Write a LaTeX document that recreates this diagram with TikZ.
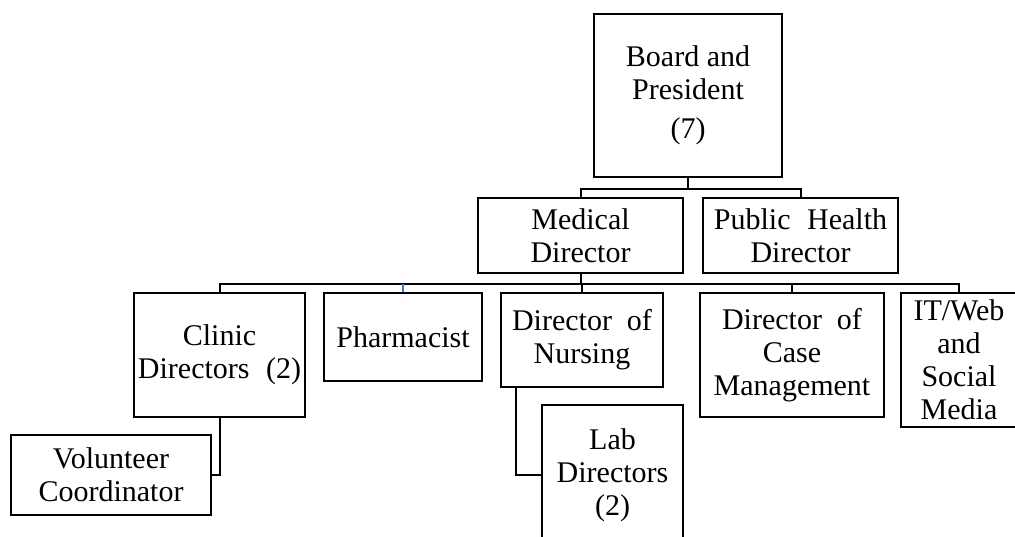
\documentclass[tikz,border=0pt]{standalone}
\usepackage{fontspec}
\setmainfont{Liberation Serif}
\begin{document}
\begin{tikzpicture}[x=1pt,y=-1pt,
  orgbox/.style={draw, line width=2pt, inner sep=0pt, align=center,
    font=\fontsize{30}{33}\selectfont},
  link/.style={line width=2pt},
  bluelink/.style={line width=2pt, draw={rgb,255:red,68;green,114;blue,196}}]
\useasboundingbox (0,0) rectangle (1015,537);
\clip (0,0) rectangle (1015,537);

% top level
\node[orgbox, minimum width=188pt, minimum height=163pt] (board) at (688,95.5)
  {Board and\\President\\[6pt](7)};

% second level
\node[orgbox, minimum width=205pt, minimum height=75pt] (medical) at (580.5,235.5)
  {Medical\\Director};
\node[orgbox, minimum width=195pt, minimum height=75pt] (public) at (800.5,235.5)
  {Public\hspace{0.55em}Health\\Director};

% third level
\node[orgbox, minimum width=171pt, minimum height=124pt] (clinic) at (219.5,355)
  {Clinic\\Directors\hspace{0.55em}(2)};
\node[orgbox, minimum width=158pt, minimum height=88pt] (pharm) at (403,337)
  {Pharmacist};
\node[orgbox, minimum width=162pt, minimum height=94pt] (nursing) at (582,340)
  {Director\hspace{0.5em}of\\Nursing};
\node[orgbox, minimum width=184pt, minimum height=124pt] (casemgmt) at (792,355)
  {Director\hspace{0.5em}of\\Case\\Management};
\node[orgbox, minimum width=116pt, minimum height=134pt] (itweb) at (959,360)
  {IT/Web\\and\\Social\\Media};

% fourth level
\node[orgbox, minimum width=200pt, minimum height=80pt] (volunteer) at (111,475)
  {Volunteer\\Coordinator};
\node[orgbox, minimum width=141pt, minimum height=140pt] (lab) at (612.5,475)
  {Lab\\Directors\\(2)};

% board to second level
\draw[link] (board.south) -- ++(0,11) coordinate (tbus);
\draw[link] (medical.north) |- (tbus) -| (public.north);

% medical director to third level
\draw[link] (medical.south) -- ++(0,10) coordinate (mbus);
\draw[link] (clinic.north) |- (mbus) -| (itweb.north);
\draw[link] (nursing.north) -- (nursing.north |- mbus);
\draw[link] (casemgmt.north) -- (casemgmt.north |- mbus);
\draw[bluelink] (pharm.north) -- (pharm.north |- mbus);

% third to fourth level
\draw[link] (clinic.south) |- (volunteer.east);
\draw[link] ([xshift=16pt]nursing.south west) |- (lab.west);
\end{tikzpicture}
\end{document}
